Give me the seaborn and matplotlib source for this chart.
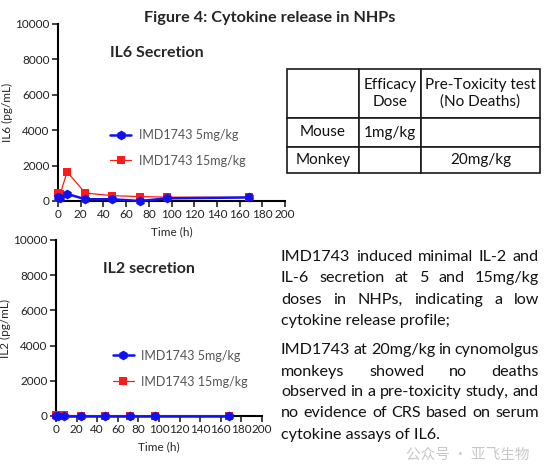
import matplotlib
matplotlib.use("Agg")
import matplotlib.pyplot as plt
import seaborn as sns
import pandas as pd

sns.set_theme(style="ticks")
plt.rcParams['font.family'] = ['Lato', 'DejaVu Sans']

# time points (h)
time_h = [0, 2, 8, 24, 48, 72, 96, 168]
# IL6 (pg/mL)
il6_5mg = [250, 150, 400, 100, 100, 0, 150, 200]
il6_15mg = [450, 400, 1650, 450, 300, 250, 220, 200]
# IL2 (pg/mL)
il2_5mg = [0, 0, 0, 0, 0, 0, 0, 0]
il2_15mg = [30, 30, 30, 20, 20, 20, 20, 20]

series_names = ["IMD1743 5mg/kg", "IMD1743 15mg/kg"]
table_rows = [["", "Efficacy\nDose", "Pre-Toxicity test\n(No Deaths)"],
              ["Mouse", "1mg/kg", ""],
              ["Monkey", "", "20mg/kg"]]

W, H = 548, 467
fig = plt.figure(figsize=(W / 100, H / 100), dpi=100)


def box(l, t, r, b):
    return [l / W, 1 - b / H, (r - l) / W, (b - t) / H]


def draw_panel(ax, v5, v15, ylabel, title, title_y, leg_x, leg_y):
    df5 = pd.DataFrame({"t": time_h, "v": v5})
    df15 = pd.DataFrame({"t": time_h, "v": v15})
    sns.lineplot(data=df15, x="t", y="v", ax=ax, color="#ff1a1a", marker="s",
                 markersize=6, markeredgewidth=0, linewidth=0.9,
                 label=series_names[1], clip_on=False, zorder=3)
    sns.lineplot(data=df5, x="t", y="v", ax=ax, color="#1010f0", marker="h",
                 markersize=7, markeredgewidth=0, linewidth=1.8,
                 label=series_names[0], clip_on=False, zorder=4)
    ax.set_xlim(0, 200)
    ax.set_ylim(0, 10000)
    ax.set_xticks(range(0, 201, 20))
    ax.set_yticks(range(0, 10001, 2000))
    ax.tick_params(labelsize=8.5, length=4, width=1.2, pad=2, colors="#222222")
    for s in ("top", "right"):
        ax.spines[s].set_visible(False)
    for s in ("left", "bottom"):
        ax.spines[s].set_linewidth(1.5)
        ax.spines[s].set_color("black")
    ax.set_xlabel("Time (h)", fontsize=8.5, labelpad=4)
    ax.set_ylabel(ylabel, fontsize=8.5, labelpad=2)
    ax.text(0.23, title_y, title, transform=ax.transAxes, fontsize=11.5,
            fontweight="bold", va="center")
    h, l = ax.get_legend_handles_labels()
    ax.legend(h[::-1], l[::-1], loc="upper left", bbox_to_anchor=(leg_x, leg_y),
              frameon=False, fontsize=9, handlelength=1.7, handletextpad=0.6,
              labelspacing=1.1, labelcolor="#555555")


ax1 = fig.add_axes(box(58, 24, 285, 201))
draw_panel(ax1, il6_5mg, il6_15mg, "IL6 (pg/mL)", "IL6 Secretion", 0.835, 0.18, 0.47)
ax2 = fig.add_axes(box(56, 240, 262, 416))
draw_panel(ax2, il2_5mg, il2_15mg, "IL2 (pg/mL)", "IL2 secretion", 0.835, 0.22, 0.44)

fig.text(270 / W, 1 - 18 / H, "Figure 4: Cytokine release in NHPs",
         ha="center", va="center", fontsize=11.7, fontweight="bold")

# table
tax = fig.add_axes(box(287, 69, 540, 173))
tax.axis("off")
tbl = tax.table(cellText=table_rows, cellLoc="center", bbox=[0, 0, 1, 1],
                colWidths=[72, 62, 119])
tbl.auto_set_font_size(False)
for (r, c), cell in tbl.get_celld().items():
    cell.set_linewidth(1.2)
    cell.set_text_props(fontsize=11, color="#111111")
    cell.set_height([49, 29, 26][r] / 104)

# description text, justified between x0 and x1
paragraphs = [["IMD1743 induced minimal IL-2 and",
               "IL-6 secretion at 5 and 15mg/kg",
               "doses in NHPs, indicating a low",
               "cytokine release profile;"],
              ["IMD1743 at 20mg/kg in cynomolgus",
               "monkeys showed no deaths",
               "observed in a pre-toxicity study, and",
               "no evidence of CRS based on serum",
               "cytokine assays of IL6."]]
para_ys = [[257, 278, 300, 321], [350, 372, 392, 413, 435]]
x0, x1 = 281, 539
fs = 11.6
renderer = fig.canvas.get_renderer()
for lines, ys in zip(paragraphs, para_ys):
    for i, (txt, y) in enumerate(zip(lines, ys)):
        last = i == len(lines) - 1
        words = txt.split(" ")
        if last:
            fig.text(x0 / W, 1 - y / H, txt, ha="left", va="center",
                     fontsize=fs, color="#111111")
            continue
        objs = [fig.text(0, 1 - y / H, w, ha="left", va="center",
                         fontsize=fs, color="#111111") for w in words]
        widths = [o.get_window_extent(renderer).width for o in objs]
        gap = (x1 - x0 - sum(widths)) / (len(words) - 1)
        x = x0
        for o, w in zip(objs, widths):
            o.set_x(x / W)
            x += w + gap

fig.text(530 / W, 1 - 455 / H, "公众号 · 亚飞生物", ha="right", va="center",
         fontsize=10.5, color="#bbbbbb", alpha=0.8,
         family=["Noto Sans CJK SC", "DejaVu Sans"])

fig.savefig("out.png", dpi=100)
